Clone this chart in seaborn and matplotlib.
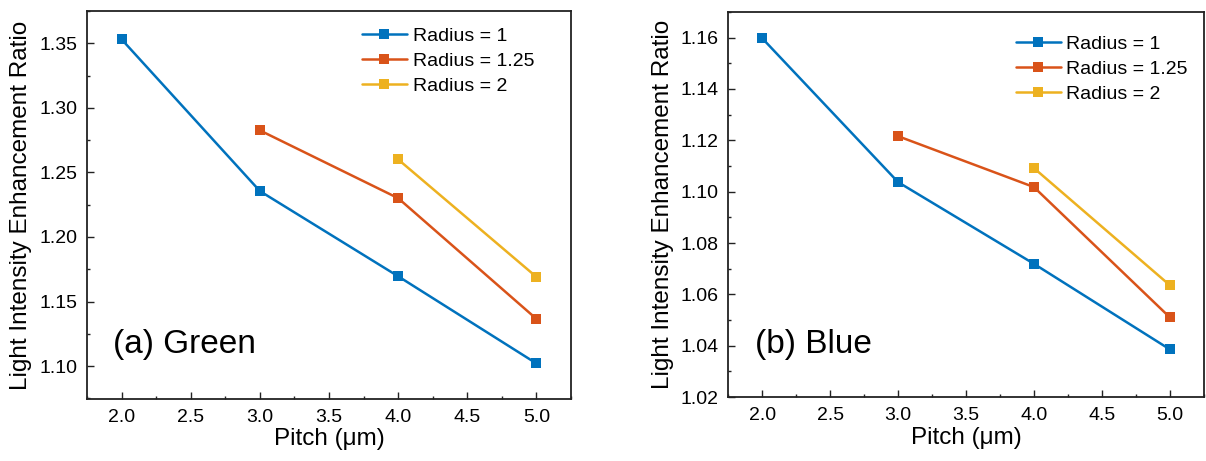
import numpy as np
import pandas as pd
import matplotlib
matplotlib.use("Agg")
import matplotlib.pyplot as plt
from matplotlib.ticker import MultipleLocator, FormatStrFormatter
import seaborn as sns

# Pitch values (µm) for each radius series
pitch_r1 = [2.0, 3.0, 4.0, 5.0]
pitch_r125 = [3.0, 4.0, 5.0]
pitch_r2 = [4.0, 5.0]

# Green enhancement ratio
green_r1 = [1.353, 1.2355, 1.1695, 1.102]
green_r125 = [1.2825, 1.230, 1.1365]
green_r2 = [1.260, 1.169]

# Blue enhancement ratio
blue_r1 = [1.1597, 1.1037, 1.0719, 1.0386]
blue_r125 = [1.1216, 1.1018, 1.0511]
blue_r2 = [1.1092, 1.0636]

series_labels = ["Radius = 1", "Radius = 1.25", "Radius = 2"]
series_colors = ["#0072BD", "#D95319", "#EDB120"]
panel_titles = ["(a) Green", "(b) Blue"]


def build_frame(r1, r125, r2):
    rows = []
    for label, xs, ys in zip(series_labels, [pitch_r1, pitch_r125, pitch_r2], [r1, r125, r2]):
        for x, y in zip(xs, ys):
            rows.append({"pitch": x, "ratio": y, "series": label})
    return pd.DataFrame(rows)


sns.set_style("ticks")
plt.rcParams["font.family"] = ["Liberation Sans", "DejaVu Sans"]
plt.rcParams["text.color"] = "black"
plt.rcParams["axes.labelcolor"] = "black"
plt.rcParams["xtick.color"] = "black"
plt.rcParams["ytick.color"] = "black"

fig = plt.figure(figsize=(12.06, 4.61), dpi=100)
ax_g = fig.add_axes([0.0722, 0.1345, 0.4013, 0.8417])
ax_b = fig.add_axes([0.6040, 0.1388, 0.3940, 0.8352])

panels = [
    (ax_g, build_frame(green_r1, green_r125, green_r2), (1.0745, 1.375), 0.05, 0.025, "%.2f",
     (0.568, 0.958), 0.054, 0.140),
    (ax_b, build_frame(blue_r1, blue_r125, blue_r2), (1.02, 1.17), 0.02, 0.01, "%.2f",
     (0.605, 0.940), 0.056, 0.137),
]

for i, (ax, df, ylim, ymaj, ymin, yfmt, leg_anchor, tx, ty) in enumerate(panels):
    sns.lineplot(data=df, x="pitch", y="ratio", hue="series", hue_order=series_labels,
                 palette=series_colors, marker="s", markersize=6.5, markeredgewidth=0,
                 linewidth=1.8, ax=ax, legend=True)
    ax.set_xlim(1.75, 5.25)
    ax.set_ylim(*ylim)
    ax.xaxis.set_major_locator(MultipleLocator(0.5))
    ax.xaxis.set_minor_locator(MultipleLocator(0.25))
    ax.yaxis.set_major_locator(MultipleLocator(ymaj))
    ax.yaxis.set_minor_locator(MultipleLocator(ymin))
    ax.xaxis.set_major_formatter(FormatStrFormatter("%.1f"))
    ax.yaxis.set_major_formatter(FormatStrFormatter(yfmt))
    ax.tick_params(which="both", direction="in", top=False, right=False,
                   width=1.0, color="#222222", labelcolor="black")
    ax.tick_params(which="major", length=5, labelsize=14, pad=7)
    ax.tick_params(which="minor", length=2.5)
    for sp in ax.spines.values():
        sp.set_visible(True)
        sp.set_linewidth(1.3)
        sp.set_color("#222222")
    ax.set_xlabel("Pitch (μm)", fontsize=17.5, labelpad=2, color="black")
    ax.set_ylabel("Light Intensity Enhancement Ratio", fontsize=17.5, labelpad=5, color="black")
    leg = ax.legend(loc="upper left", bbox_to_anchor=leg_anchor, frameon=False,
                    fontsize=14, handlelength=2.3, handletextpad=0.3,
                    labelspacing=0.38, borderpad=0, borderaxespad=0)
    for t in leg.get_texts():
        t.set_color("black")
    ax.text(tx, ty, panel_titles[i], transform=ax.transAxes, fontsize=24,
            va="center", ha="left", color="black",
            bbox=dict(facecolor="white", edgecolor="none", pad=6))

fig.savefig("out.png", dpi=100)
